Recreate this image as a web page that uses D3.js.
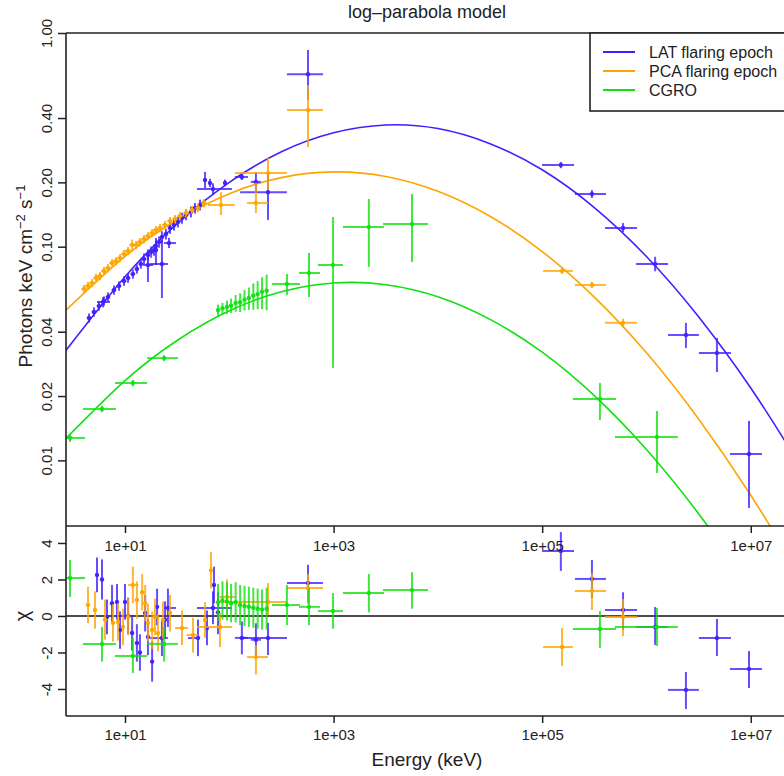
<!DOCTYPE html>
<html><head><meta charset="utf-8">
<script src="https://cdn.jsdelivr.net/npm/d3@7"></script>
<style>
body{margin:0;background:#fff;}
svg{display:block;font-family:"Liberation Sans",Arial,Helvetica,sans-serif;}
</style>
</head><body>
<svg id="chart" width="784" height="776"></svg>
<script>
// ---------------- DATA ----------------
const chartTitle = "log\u2013parabola model";
const seriesNames = ["LAT flaring epoch", "PCA flaring epoch", "CGRO"];
const seriesColors = ["#4020ff", "#ffa500", "#11e011"];

const xTickValues = [1e1, 1e3, 1e5, 1e7];
const xTickLabels = ["1e+01", "1e+03", "1e+05", "1e+07"];
const yTickValues = [0.01, 0.02, 0.04, 0.10, 0.20, 0.40, 1.00];
const yTickLabels = ["0.01", "0.02", "0.04", "0.10", "0.20", "0.40", "1.00"];
const chiTickValues = [-4, -2, 0, 2, 4];
const chiTickLabels = ["-4", "-2", "0", "2", "4"];

// model curves (energy keV, flux)
const modelEnergy = [2.69, 10, 31.6, 100, 316, 1000, 3162, 1e4, 3.16e4, 1e5, 3.16e5, 1e6, 3.16e6, 1e7, 2.29e7, 3.16e7];
const modelLAT  = [0.0325, 0.0723, 0.128, 0.200, 0.278, 0.341, 0.371, 0.357, 0.3035, 0.229, 0.1525, 0.0900, 0.0470, 0.0218, 0.0116, 0.0089];
const modelPCA  = [0.0502, 0.0901, 0.1334, 0.1771, 0.2104, 0.2238, 0.2132, 0.1818, 0.1389, 0.0949, 0.0581, 0.0319, 0.01563, 0.00687, 0.00355, 0.0027];
const modelCGRO = [0.0126, 0.0236, 0.0364, 0.0501, 0.0615, 0.0676, 0.0664, 0.0583, 0.0457, 0.0321, 0.0201, 0.01125, 0.00563, 0.00252, 0.00132, 0.00101];

// spectrum points: [E, Elo, Ehi, F, Flo, Fhi]
const specLAT = [
 [4.52,4.30,4.75,0.0464,0.0441,0.0487],[5.04,4.79,5.29,0.0495,0.0470,0.0520],
 [5.63,5.35,5.91,0.0528,0.0502,0.0554],[6.29,5.98,6.60,0.0557,0.0529,0.0585],
 [6.87,6.53,7.21,0.0582,0.0553,0.0611],[7.84,7.45,8.23,0.0627,0.0596,0.0658],
 [8.76,8.32,9.20,0.0655,0.0622,0.0688],[9.78,9.29,10.3,0.0691,0.0656,0.0726],
 [10.7,10.2,11.2,0.0714,0.0678,0.0750],[11.9,11.3,12.5,0.0745,0.0708,0.0782],
 [13.0,12.4,13.6,0.0786,0.0747,0.0825],[14.2,13.5,14.9,0.0830,0.0789,0.0872],
 [15.2,14.4,16.0,0.0876,0.0823,0.0929],[16.6,15.8,17.4,0.0915,0.0860,0.0970],
 [17.8,16.9,18.7,0.0945,0.0888,0.1002],[19.0,18.1,20.0,0.0965,0.0907,0.1023],
 [19.8,19.2,20.6,0.1008,0.0948,0.1068],[21.2,20.1,22.3,0.1052,0.0989,0.1115],
 [22.6,21.5,23.7,0.111,0.104,0.118],[24.7,23.5,25.9,0.1147,0.108,0.121],
 [27.0,25.7,28.4,0.1224,0.115,0.130],[29.5,28.0,31.0,0.1263,0.119,0.134],
 [32.2,30.6,33.8,0.1305,0.123,0.138],[35.2,33.4,37.0,0.1362,0.128,0.144],
 [38.5,36.6,40.4,0.1407,0.133,0.149],[42.9,40.8,45.0,0.1454,0.137,0.154],
 [46.9,44.6,49.2,0.1518,0.143,0.160],[52.4,49.8,55.0,0.1567,0.148,0.166],
 [6.15,5.39,7.18,0.0551,0.052,0.058],[16.6,14.9,18.6,0.0821,0.0684,0.0915],
 [22.6,17.4,25.8,0.0830,0.0575,0.1075],[26.4,23.7,30.8,0.104,0.0986,0.110],
 [19.8,19.0,20.7,0.0965,0.0821,0.1098],
 [58.5,56.0,61.0,0.205,0.188,0.224],[65.3,62.7,68.0,0.1987,0.190,0.208],
 [69.8,49,106,0.1862,0.175,0.198],[91,87,95,0.1987,0.192,0.206],
 [132,113,151,0.212,0.205,0.219],[180,161,201,0.201,0.1783,0.2237],
 [235,127,357,0.180,0.1334,0.2237],[568,357,791,0.642,0.486,0.833],
 [1.51e5,9.96e4,2.02e5,0.241,0.233,0.249],[3.0e5,2.06e5,4.09e5,0.1764,0.169,0.184],
 [5.96e5,4.0e5,8.11e5,0.1224,0.117,0.129],[1.21e6,7.92e5,1.61e6,0.0830,0.0767,0.0897],
 [2.39e6,1.61e6,3.18e6,0.0386,0.0336,0.0440],[4.74e6,3.18e6,6.46e6,0.0318,0.0259,0.0374],
 [9.62e6,6.32e6,1.28e7,0.01071,0.00599,0.01529]
];
const specPCA = [
 [4.05,3.81,4.29,0.0634,0.0606,0.0662],[4.42,4.15,4.69,0.0655,0.0626,0.0684],
 [4.83,4.54,5.12,0.0676,0.0646,0.0706],[5.27,4.95,5.59,0.0714,0.0682,0.0746],
 [5.76,5.41,6.11,0.0729,0.0697,0.0761],[6.29,5.91,6.67,0.0770,0.0736,0.0804],
 [6.87,6.46,7.28,0.0795,0.0760,0.0830],[7.51,7.06,7.96,0.0839,0.0802,0.0876],
 [8.20,7.71,8.69,0.0857,0.0819,0.0895],[8.96,8.42,9.50,0.0885,0.0846,0.0924],
 [9.78,9.19,10.4,0.0924,0.0883,0.0965],[10.7,10.0,11.4,0.0955,0.0913,0.0997],
 [11.7,11.0,12.5,0.1019,0.0960,0.108],[12.8,12.0,13.6,0.1019,0.0974,0.1064],
 [13.9,13.1,14.7,0.1052,0.1006,0.1098],[15.2,14.3,16.1,0.1086,0.1038,0.1134],
 [16.6,15.6,17.6,0.1122,0.1073,0.1171],[18.2,17.1,19.3,0.1159,0.1108,0.1210],
 [19.8,18.6,21.0,0.1197,0.1144,0.1250],[21.7,20.4,23.0,0.1224,0.1170,0.1278],
 [24.2,22.7,25.7,0.1263,0.1207,0.1319],[27.0,25.4,28.6,0.1319,0.1261,0.1377],
 [30.2,28.4,32.0,0.1348,0.1289,0.1407],[33.7,31.7,35.7,0.1392,0.1331,0.1453],
 [38.5,36.2,40.8,0.1438,0.1375,0.1501],[43.9,41.3,46.5,0.1485,0.1420,0.1550],
 [50.1,47.1,53.1,0.1518,0.1451,0.1585],[57.2,53.8,60.6,0.160,0.153,0.167],
 [83.2,62.5,113,0.1567,0.1407,0.180],[180,148,235,0.160,0.1438,0.1987],
 [235,113,357,0.221,0.184,0.260],[568,357,791,0.436,0.2927,0.571],
 [1.55e5,1.02e5,1.97e5,0.0770,0.0745,0.0795],[3.0e5,2.06e5,4.09e5,0.0662,0.064,0.0685],
 [5.96e5,4.0e5,8.11e5,0.0440,0.042,0.046]
];
const specCGRO = [
 [2.97,2.23,4.14,0.01273,0.0122,0.0133],[6.02,3.95,8.20,0.0174,0.0168,0.0180],
 [11.9,8.02,16.3,0.0230,0.0222,0.0238],[23.7,16.3,32.2,0.0301,0.0291,0.0311],
 [78,75,81,0.0505,0.0475,0.0535],[86,83,89,0.0515,0.0484,0.0546],
 [95,92,98,0.0522,0.0485,0.0559],[104,100,108,0.0530,0.0488,0.0572],
 [115,111,119,0.0545,0.0496,0.0594],[127,122,132,0.0550,0.0495,0.0605],
 [140,135,145,0.0565,0.0503,0.0627],[154,148,160,0.0575,0.0506,0.0644],
 [170,163,177,0.0590,0.0507,0.0673],[187,180,194,0.0600,0.0510,0.0690],
 [206,198,214,0.0615,0.0510,0.0720],[228,219,237,0.0622,0.0504,0.0740],
 [357,257,476,0.0669,0.0594,0.0745],[581,466,741,0.0753,0.0581,0.0934],
 [986,708,1230,0.0821,0.0271,0.1377],[2180,1230,3040,0.1237,0.0804,0.1672],
 [5650,2980,8040,0.1277,0.0848,0.1764],[3.58e5,1.97e5,5.1e5,0.01937,0.01545,0.0230],
 [1.26e6,4.99e5,2.0e6,0.01287,0.00873,0.01703]
];

// residuals: [E, Elo, Ehi, chi, chiLo, chiHi]
const residLAT = [
 [5.39,5.2,5.6,2.25,1.3,3.2],[6.02,5.8,6.25,2.0,0.9,3.1],[6.72,6.45,7.0,-0.05,-1.0,0.9],
 [7.51,7.2,7.8,0.7,-0.3,1.7],[8.38,8.05,8.7,0.77,-0.2,1.75],[8.96,8.6,9.3,-0.77,-1.8,0.25],
 [10,9.6,10.4,0.77,-0.2,1.75],[10.7,10.3,11.1,0.0,-1.0,1.0],[11.7,11.2,12.2,-0.93,-1.9,0.05],
 [13.0,12.5,13.5,-1.48,-2.5,-0.45],[13.9,13.3,14.5,-2.0,-3.0,-1.0],[15.6,15.0,16.2,0.16,-0.85,1.15],
 [16.6,15.9,17.3,-1.15,-2.15,-0.15],[18.2,17.5,18.9,-2.5,-3.6,-1.4],[20.3,19.5,21.1,0.5,-0.5,1.5],
 [22.6,17.4,25.8,-1.21,-2.2,-0.2],[24.2,23.2,25.2,-0.2,-1.2,0.8],[25.8,23.7,30.8,0.44,-0.6,1.5],
 [50.1,40.2,52.4,-1.21,-2.2,-0.2],[61.1,58.6,63.6,-0.66,-1.6,0.3],[69.8,49,106,0.44,-0.45,1.35],
 [71.3,68.5,74,1.7,0.7,2.7],[77.9,75,81,0.2,-1.0,1.3],[132,113,151,-1.2,-2.1,-0.3],
 [180,161,201,-1.3,-2.2,-0.4],[235,127,357,-1.21,-2.14,-0.38],[568,357,791,1.81,0.7,2.8],
 [1.51e5,9.96e4,2.02e5,3.56,2.47,4.6],[3.0e5,2.06e5,4.09e5,2.03,0.99,3.07],
 [5.96e5,4.0e5,8.11e5,0.33,-0.77,1.3],[1.21e6,7.92e5,1.61e6,-0.6,-1.59,0.49],
 [2.39e6,1.61e6,3.18e6,-4.05,-5.1,-3.07],[4.74e6,3.18e6,6.46e6,-1.21,-2.19,-0.16],
 [9.62e6,6.32e6,1.28e7,-2.9,-3.95,-1.92]
];
const residPCA = [
 [4.42,4.25,4.6,0.6,-0.4,1.6],[5.16,4.95,5.37,0.33,-0.7,1.35],[6.43,6.17,6.7,-0.2,-1.3,0.9],
 [7.67,7.36,8.0,-0.38,-1.4,0.65],[8.57,8.23,8.9,-0.33,-1.35,0.7],[9.57,9.2,9.95,-0.6,-1.6,0.4],
 [10.7,10.3,11.1,-0.05,-1.05,0.95],[11.9,10.7,13.4,1.7,0.7,2.7],[13.0,12.5,13.5,0.88,-0.15,1.9],
 [14.6,14.0,15.2,1.3,0.3,2.3],[15.6,15.0,16.2,0.7,-0.3,1.7],[16.6,15.9,17.3,-0.38,-1.4,0.65],
 [18.2,17.5,18.9,-0.77,-1.8,0.25],[19.4,18.6,20.2,-0.05,-1.05,0.95],[20.7,19.9,21.5,-0.93,-1.95,0.1],
 [23.1,22.2,24.0,-0.22,-1.25,0.8],[27.0,25.9,28.1,0.16,-0.85,1.15],[35.2,30.2,40.2,-0.66,-1.6,0.3],
 [44.9,39.0,50.1,-1.04,-2.0,-0.1],[58.5,56.2,60.8,-0.22,-1.2,0.75],[66.8,64.1,69.5,2.5,1.5,3.5],
 [81.4,49,106,-0.6,-1.7,0.16],[95.1,80,113,1.04,0.1,2.0],[180,148,235,-2.25,-3.2,-1.6],
 [235,80,357,0.77,0.05,1.8],[568,357,791,1.53,0.7,2.3],
 [1.55e5,1.02e5,1.97e5,-1.7,-2.74,-0.66],[3.0e5,2.06e5,4.09e5,1.37,0.33,2.36],
 [5.96e5,4.0e5,8.11e5,-0.05,-1.1,0.93]
];
const residCGRO = [
 [2.97,2.23,4.14,2.08,1.04,3.07],[6.02,3.95,8.20,-1.53,-2.5,-0.6],
 [11.9,8.02,16.3,-2.19,-3.12,-1.2],[23.7,16.3,32.2,-1.53,-2.5,-0.6],
 [78,75,81,0.75,-0.25,1.75],[86,83,89,0.85,-0.2,1.9],[95,92,98,0.8,-0.25,1.85],
 [104,100,108,0.7,-0.35,1.75],[115,111,119,0.75,-0.35,1.85],[127,122,132,0.6,-0.5,1.7],
 [140,135,145,0.55,-0.55,1.65],[154,148,160,0.5,-0.6,1.6],[170,163,177,0.45,-0.65,1.55],
 [187,180,194,0.4,-0.7,1.5],[206,198,214,0.35,-0.75,1.45],[228,219,237,0.4,-0.75,1.55],
 [357,257,476,0.6,-0.5,1.7],[581,466,741,0.5,-0.5,1.5],[986,708,1230,0.27,-0.7,1.26],
 [2180,1230,3040,1.26,0.2,2.3],[5650,2980,8040,1.42,0.4,2.4],
 [3.58e5,1.97e5,5.1e5,-0.71,-1.75,0.27],[1.26e6,4.99e5,2.0e6,-0.6,-1.64,0.44]
];

// ---------------- DRAWING ----------------
const svg = d3.select("#chart");
const L = 66, R = 788, T = 33, MID = 526, BOT = 716;
const ink = "#222";

const x = d3.scaleLog().domain([2.718, 2.275e7]).range([L, R]);
const y = d3.scaleLog().domain([0.00493, 1]).range([MID, T]);
const yc = d3.scaleLinear().domain([-5.48, 4.93]).range([BOT, MID]);

const defs = svg.append("defs");
defs.append("clipPath").attr("id", "clipTop").append("rect")
  .attr("x", L).attr("y", T).attr("width", R - L).attr("height", MID - T);
defs.append("clipPath").attr("id", "clipBot").append("rect")
  .attr("x", L).attr("y", MID).attr("width", R - L).attr("height", BOT - MID);

// model curves
const models = [modelLAT, modelPCA, modelCGRO];
const line = d3.line().x(d => x(d[0])).y(d => y(d[1])).curve(d3.curveNatural);
const gCurves = svg.append("g").attr("clip-path", "url(#clipTop)");
models.forEach((m, i) => {
  gCurves.append("path")
    .attr("d", line(modelEnergy.map((e, k) => [e, m[k]])))
    .attr("fill", "none").attr("stroke", seriesColors[i]).attr("stroke-width", 1.6);
});

function drawPoints(g, rows, yScale, color) {
  const pg = g.append("g").attr("stroke", color).attr("fill", color)
    .attr("stroke-width", 2).attr("stroke-opacity", 0.8).attr("fill-opacity", 0.9);
  rows.forEach(r => {
    pg.append("line").attr("x1", x(r[1])).attr("x2", x(r[2]))
      .attr("y1", yScale(r[3])).attr("y2", yScale(r[3]));
    pg.append("line").attr("x1", x(r[0])).attr("x2", x(r[0]))
      .attr("y1", yScale(r[4])).attr("y2", yScale(r[5]));
    pg.append("circle").attr("cx", x(r[0])).attr("cy", yScale(r[3])).attr("r", 2.2)
      .attr("stroke", "none");
  });
}
const gTop = svg.append("g").attr("clip-path", "url(#clipTop)");
[specLAT, specPCA, specCGRO].forEach((rows, i) => drawPoints(gTop, rows, y, seriesColors[i]));

// zero line
svg.append("line").attr("x1", L).attr("x2", R).attr("y1", yc(0)).attr("y2", yc(0))
  .attr("stroke", "#111").attr("stroke-width", 1.5);
const gBot = svg.append("g").attr("clip-path", "url(#clipBot)");
[residLAT, residPCA, residCGRO].forEach((rows, i) => drawPoints(gBot, rows, yc, seriesColors[i]));

// frame
const frame = svg.append("g").attr("stroke", ink).attr("stroke-width", 1.6).attr("fill", "none");
frame.append("line").attr("x1", L).attr("x2", R).attr("y1", T).attr("y2", T);
frame.append("line").attr("x1", L).attr("x2", L).attr("y1", T).attr("y2", BOT);
frame.append("line").attr("x1", L).attr("x2", R).attr("y1", MID).attr("y2", MID);
frame.append("line").attr("x1", L).attr("x2", R).attr("y1", BOT).attr("y2", BOT);

function styleAxis(g) {
  g.select(".domain").remove();
  g.selectAll("line").attr("stroke", ink).attr("stroke-width", 1.5);
  g.selectAll("text").attr("fill", ink).style("font-size", "15px")
    .style("font-family", '"Liberation Sans",Arial,Helvetica,sans-serif');
}

// y axes (rotated labels)
const gy = svg.append("g").attr("transform", `translate(${L},0)`)
  .call(d3.axisLeft(y).tickValues(yTickValues).tickFormat((d, i) => yTickLabels[i]).tickSize(8).tickSizeOuter(0));
styleAxis(gy);
gy.selectAll("text").attr("transform", "rotate(-90)").attr("x", 0).attr("y", -14)
  .attr("dy", 0).attr("text-anchor", "middle");

const gyc = svg.append("g").attr("transform", `translate(${L},0)`)
  .call(d3.axisLeft(yc).tickValues(chiTickValues).tickFormat((d, i) => chiTickLabels[i]).tickSize(8).tickSizeOuter(0));
styleAxis(gyc);
gyc.selectAll("text").attr("transform", "rotate(-90)").attr("x", 0).attr("y", -14)
  .attr("dy", 0).attr("text-anchor", "middle");

// x axes
const gxMid = svg.append("g").attr("transform", `translate(0,${MID})`)
  .call(d3.axisBottom(x).tickValues(xTickValues).tickFormat((d, i) => xTickLabels[i]).tickSize(7).tickSizeOuter(0));
styleAxis(gxMid);
gxMid.selectAll("text").attr("y", 25).attr("dy", 0);

const gxBot = svg.append("g").attr("transform", `translate(0,${BOT})`)
  .call(d3.axisBottom(x).tickValues(xTickValues).tickFormat((d, i) => xTickLabels[i]).tickSize(7).tickSizeOuter(0));
styleAxis(gxBot);
gxBot.selectAll("text").attr("y", 24).attr("dy", 0);

// titles
svg.append("text").attr("x", 427).attr("y", 18).attr("text-anchor", "middle")
  .style("font-size", "18px").attr("fill", ink).text(chartTitle);
svg.append("text").attr("x", 427).attr("y", 766).attr("text-anchor", "middle")
  .style("font-size", "19px").attr("fill", ink).text("Energy (keV)");

const yt = svg.append("text").attr("transform", "translate(32,276) rotate(-90)")
  .attr("text-anchor", "middle").style("font-size", "19px").attr("fill", ink);
yt.append("tspan").text("Photons keV cm");
yt.append("tspan").attr("dy", -7).style("font-size", "13px").text("\u22122");
yt.append("tspan").attr("dy", 7).text(" s");
yt.append("tspan").attr("dy", -7).style("font-size", "13px").text("\u22121");

svg.append("text").attr("transform", `translate(29,${yc(0)}) rotate(-90)`)
  .attr("text-anchor", "middle").style("font-size", "20px").attr("fill", ink).text("\u03c7");

// legend
const lg = svg.append("g");
lg.append("rect").attr("x", 590).attr("y", T).attr("width", 260).attr("height", 78)
  .attr("fill", "#fff").attr("stroke", ink).attr("stroke-width", 1.6);
seriesNames.forEach((name, i) => {
  const yy = 52 + i * 19;
  lg.append("line").attr("x1", 603).attr("x2", 635).attr("y1", yy).attr("y2", yy)
    .attr("stroke", seriesColors[i]).attr("stroke-width", 2);
  lg.append("text").attr("x", 649).attr("y", yy).attr("dy", "0.35em")
    .style("font-size", "16px").attr("fill", ink).text(name);
});
</script>
</body></html>
